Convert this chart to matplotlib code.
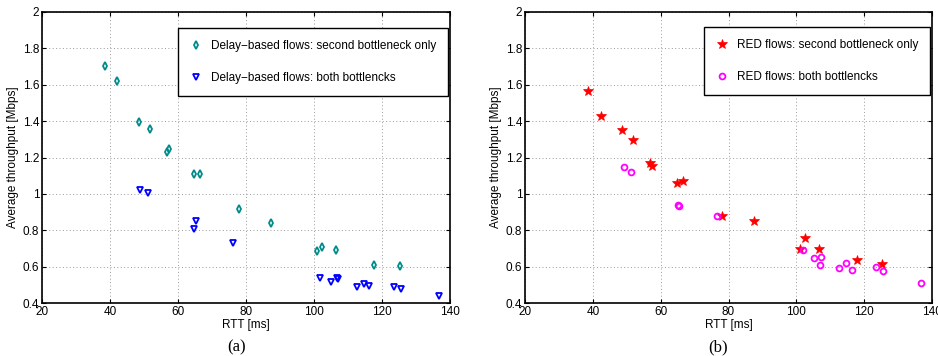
import matplotlib
matplotlib.use("Agg")
import matplotlib.pyplot as plt

plt.rcParams['font.family'] = ['Liberation Sans', 'DejaVu Sans']

# Panel (a): delay-based flows
delay_second_rtt = [38.4, 42.0, 48.4, 51.8, 56.9, 57.4, 64.7, 66.5, 78.0, 87.4, 101.0, 102.4, 106.6, 117.7, 125.2]
delay_second_thr = [1.705, 1.619, 1.393, 1.358, 1.228, 1.249, 1.107, 1.107, 0.917, 0.838, 0.686, 0.708, 0.691, 0.611, 0.603]
delay_both_rtt = [48.9, 51.2, 65.2, 64.8, 76.3, 101.8, 104.9, 106.9, 107.2, 112.6, 114.6, 116.1, 123.4, 125.5, 136.7]
delay_both_thr = [1.023, 1.003, 0.853, 0.808, 0.730, 0.538, 0.518, 0.539, 0.530, 0.490, 0.506, 0.495, 0.486, 0.477, 0.439]

# Panel (b): RED flows
red_second_rtt = [38.5, 42.3, 48.5, 51.8, 57.0, 57.4, 64.7, 66.7, 78.2, 87.4, 101.0, 102.6, 106.7, 117.8, 125.4]
red_second_thr = [1.564, 1.430, 1.351, 1.298, 1.172, 1.153, 1.058, 1.069, 0.878, 0.849, 0.695, 0.759, 0.699, 0.636, 0.613]
red_both_rtt = [49.1, 51.3, 65.0, 65.3, 76.5, 101.9, 105.2, 107.3, 107.0, 112.7, 114.7, 116.3, 123.6, 125.6, 136.9]
red_both_thr = [1.148, 1.118, 0.939, 0.931, 0.877, 0.693, 0.646, 0.651, 0.609, 0.594, 0.620, 0.580, 0.596, 0.574, 0.510]

xticks = [20, 40, 60, 80, 100, 120, 140]
yticks = [0.4, 0.6, 0.8, 1.0, 1.2, 1.4, 1.6, 1.8, 2.0]
ytick_labels = ['0.4', '0.6', '0.8', '1', '1.2', '1.4', '1.6', '1.8', '2']

fig = plt.figure(figsize=(9.38, 3.56), dpi=100)
W, H = 938, 356
ax1 = fig.add_axes([42 / W, 1 - 303 / H, 408 / W, 291 / H])
ax2 = fig.add_axes([525 / W, 1 - 303 / H, 407 / W, 291 / H])

ax1.plot(delay_second_rtt, delay_second_thr, linestyle='none', marker='d', markersize=4.2,
         markerfacecolor='none', markeredgecolor='#008a8a', markeredgewidth=1.3,
         label='Delay\u2212based flows: second bottleneck only')
ax1.plot(delay_both_rtt, delay_both_thr, linestyle='none', marker='v', markersize=4.5,
         markerfacecolor='none', markeredgecolor='#0000ff', markeredgewidth=1.3,
         label='Delay\u2212based flows: both bottlencks')

ax2.plot(red_second_rtt, red_second_thr, linestyle='none', marker='*', markersize=7,
         markerfacecolor='#ff0000', markeredgecolor='#ff0000', markeredgewidth=0.5,
         label='RED flows: second bottleneck only')
ax2.plot(red_both_rtt, red_both_thr, linestyle='none', marker='o', markersize=4.2,
         markerfacecolor='none', markeredgecolor='#ff00ff', markeredgewidth=1.3,
         label='RED flows: both bottlencks')

for ax in (ax1, ax2):
    ax.set_xlim(20, 140)
    ax.set_ylim(0.4, 2.0)
    ax.set_xticks(xticks)
    ax.set_yticks(yticks)
    ax.set_yticklabels(ytick_labels)
    ax.tick_params(direction='in', length=3, width=0.8, labelsize=8.5, pad=2,
                   top=True, right=True, colors='black')
    ax.grid(True, linestyle=(0, (1, 2.5)), color='#9a9a9a', linewidth=0.7)
    for s in ax.spines.values():
        s.set_linewidth(1.2)
        s.set_color('black')
    ax.set_xlabel('RTT [ms]', fontsize=8.5, labelpad=1)
    ax.set_ylabel('Average throughput [Mbps]', fontsize=8.5, labelpad=3)

leg1 = ax1.legend(loc='upper left', bbox_to_anchor=(178 / W, 1 - 28 / H), bbox_transform=fig.transFigure,
                  fontsize=8.5, frameon=True, fancybox=False, framealpha=1, edgecolor='black',
                  borderpad=1.0, labelspacing=1.7, handlelength=1.0, handletextpad=0.8,
                  borderaxespad=0, numpoints=1)
leg1.get_frame().set_linewidth(1.0)
leg2 = ax2.legend(loc='upper left', bbox_to_anchor=(704 / W, 1 - 27 / H), bbox_transform=fig.transFigure,
                  fontsize=8.5, frameon=True, fancybox=False, framealpha=1, edgecolor='black',
                  borderpad=1.0, labelspacing=1.7, handlelength=1.0, handletextpad=0.8,
                  borderaxespad=0, numpoints=1)
leg2.get_frame().set_linewidth(1.0)

fig.text(237 / W, 1 - 347 / H, '(a)', ha='center', va='center', fontsize=12,
         family=['Liberation Serif', 'DejaVu Serif'])
fig.text(718 / W, 1 - 347 / H, '(b)', ha='center', va='center', fontsize=12,
         family=['Liberation Serif', 'DejaVu Serif'])

fig.savefig('out.png', dpi=100)
